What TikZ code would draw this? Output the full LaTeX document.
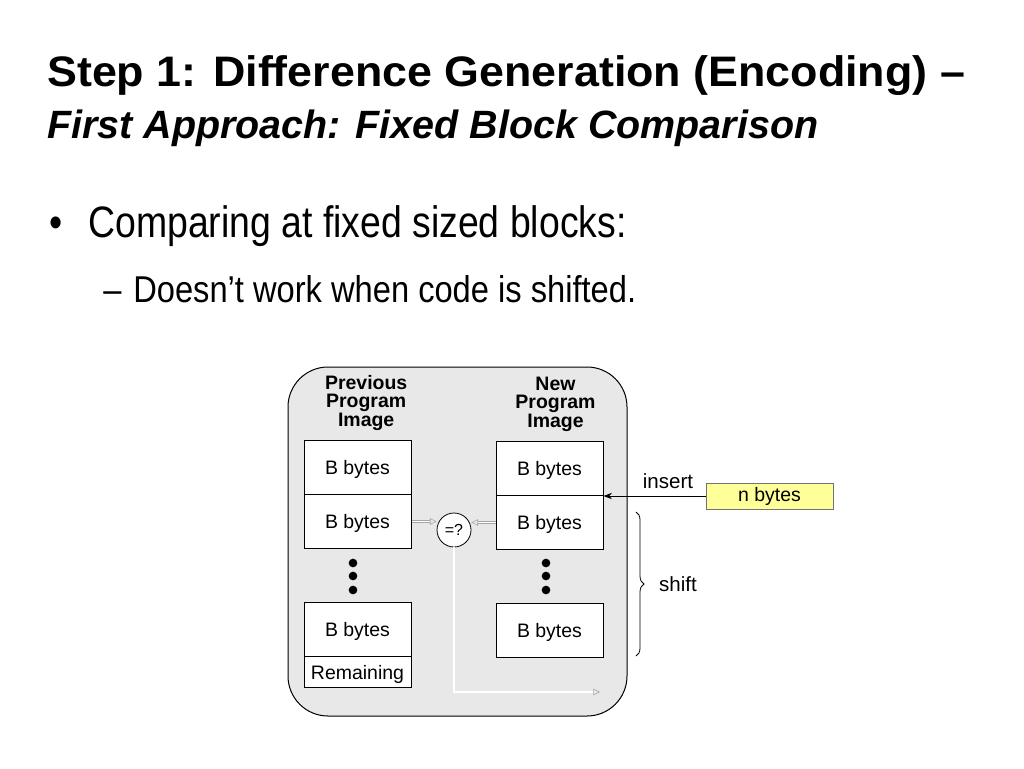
\documentclass[tikz,border=0pt]{standalone}
\usepackage{fontspec}
\setmainfont{Liberation Sans}
\newfontfamily\titlefont[FakeStretch=1.05]{Liberation Sans}
\newfontfamily\narrowfont[FakeStretch=0.85]{Liberation Sans}
\newfontfamily\subfont[FakeStretch=0.875]{Liberation Sans}
\usetikzlibrary{positioning, arrows.meta, decorations.pathreplacing}
\definecolor{paleyellow}{HTML}{FFFF99}

\begin{document}
\begin{tikzpicture}[x=0.75pt,y=-0.75pt,>=Stealth,
  block/.style={draw,line width=0.75pt,fill=white,minimum width=80.25pt,minimum height=40.5pt,
    inner sep=0pt,text depth=0pt,font=\fontsize{14.6}{17}\selectfont},
  head/.style={align=center,inner sep=0pt,font=\fontsize{14.6}{13.9}\selectfont\bfseries},
  dot/.style={circle,fill=black,inner sep=0pt,minimum size=6.5pt},
  hollow/.style={draw=gray!70,double=white,double distance=0.9pt,line width=0.45pt,
    -{Triangle[open,length=5pt,width=5pt]}},
  label/.style={inner sep=0pt,font=\fontsize{15.4}{18}\selectfont}]
  \useasboundingbox (0,0) rectangle (1024,768);
  \fill[white] (0,0) rectangle (1024,768);

  % title and bullets
  \node[anchor=base west,inner sep=0pt,font=\titlefont\bfseries\fontsize{32}{38}\selectfont]
    (title) at (47,86) {Step 1: Difference Generation (Encoding) –};
  \node[anchor=base west,inner sep=0pt,font=\bfseries\itshape\fontsize{29.6}{36}\selectfont]
    (subtitle) at (47,138) {First Approach: Fixed Block Comparison};
  \node[anchor=base west,inner sep=0pt,font=\narrowfont\fontsize{33}{40}\selectfont]
    (bul) at (49,237) {•};
  \node[anchor=base west,inner sep=0pt,font=\narrowfont\fontsize{33}{40}\selectfont]
    (item) at (88,237) {Comparing at fixed sized blocks:};
  \node[anchor=base west,inner sep=0pt,font=\subfont\fontsize{28}{34}\selectfont]
    (dash) at (103,302) {–};
  \node[anchor=base west,inner sep=0pt,font=\subfont\fontsize{28}{34}\selectfont]
    (subitem) at (133,302) {Doesn’t work when code is shifted.};

  % frame
  \draw[line width=0.75pt,fill=black!9,rounded corners=30pt] (288,367) rectangle (627,716);

  % previous image
  \node[block] (p1) at (357.5,467.5) {B bytes};
  \node[block,below=-0.75pt of p1] (p2) {B bytes};
  \node[block,below=39.75pt of p2] (p3) {B bytes};
  \node[block,below=-0.75pt of p3,minimum height=23.25pt] (rem) {Remaining};
  \node[head,above=7pt of p1,xshift=6.5pt] (prev) {Previous\\Program\\Image};

  % new image
  \node[block] (n1) at (549.5,468.5) {B bytes};
  \node[block,below=-0.75pt of n1] (n2) {B bytes};
  \node[block,below=39.75pt of n2] (n3) {B bytes};
  \node[head,above=7pt of n1,xshift=4.5pt] (new) {New\\Program\\Image};

  \foreach \y [count=\i] in {563,576,590} {
    \node[dot] (ldot\i) at (353,\y) {};
    \node[dot] (rdot\i) at (546,\y) {};
  }

  % comparison
  \node[circle,draw,line width=0.6pt,fill=white,minimum size=25.5pt,inner sep=0pt,
    font=\fontsize{12}{14}\selectfont] (cmp) at (454,530) {=?};
  \coordinate (out) at (600,692);
  \draw[hollow] (p2.east) -- (p2.east -| cmp.west);
  \draw[hollow] (n2.west) -- (n2.west -| cmp.east);
  \draw[hollow] (cmp.south) |- (out);

  % insertion
  \node[draw=black!55,line width=0.75pt,fill=paleyellow,minimum width=95.25pt,minimum height=19.5pt,
    inner sep=0pt,font=\fontsize{14.6}{17}\selectfont] (nb) at (769.5,496) {n bytes};
  \draw[->,line width=0.75pt] (nb.west) -- (nb.west -| n1.east);
  \node[label] (ins) at (668,481) {insert};
  \coordinate (bt) at (636,512);
  \coordinate (bb) at (636,656);
  \draw[decorate,decoration={brace,amplitude=6pt},line width=0.6pt] (bt) -- (bb);
  \node[label] (sh) at (678,584) {shift};
\end{tikzpicture}
\end{document}
